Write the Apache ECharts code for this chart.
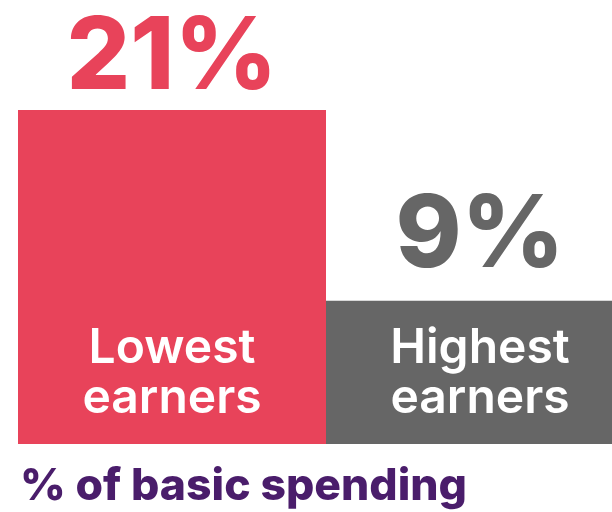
<!DOCTYPE html>
<html>
<head>
<meta charset="utf-8">
<script src="https://cdn.jsdelivr.net/npm/echarts@6/dist/echarts.min.js"></script>
<style>html,body{margin:0;padding:0;background:#fff;overflow:hidden}#c{width:634px;height:512px}</style>
</head>
<body>
<div id="c"></div>
<script>
const categories = ['Lowest\nearners', 'Highest\nearners'];
const values = [21, 9];
const valueLabels = ['21%', '9%'];
const barColors = ['#E8435A', '#666666'];
const labelDistances = [1, 14];
const chartTitle = '% of basic spending';

const chart = echarts.init(document.getElementById('c'));
chart.setOption({
  animation: false,
  backgroundColor: '#ffffff',
  title: {
    text: chartTitle,
    left: 15, top: 459,
    textStyle: { fontFamily: 'Inter', fontWeight: 800, fontSize: 44.5, color: '#4A1D6B' }
  },
  grid: { left: 18, top: 110, right: 0, bottom: 68, containLabel: false },
  xAxis: {
    type: 'category', data: categories,
    axisLine: { show: false }, axisTick: { show: false },
    axisLabel: {
      inside: true, margin: 20, color: '#ffffff',
      fontFamily: 'Inter', fontWeight: 600, fontSize: 48, lineHeight: 50
    },
    z: 10
  },
  yAxis: { type: 'value', min: 0, max: 21, show: false, splitLine: { show: false } },
  series: [{
    type: 'bar', barCategoryGap: '0%',
    data: values.map((v, i) => ({
      value: v,
      itemStyle: { color: barColors[i] },
      label: {
        show: true, position: 'top', distance: labelDistances[i],
        formatter: valueLabels[i], color: barColors[i],
        fontFamily: 'Inter', fontWeight: 800, fontSize: 100
      }
    }))
  }]
});
</script>
</body>
</html>
